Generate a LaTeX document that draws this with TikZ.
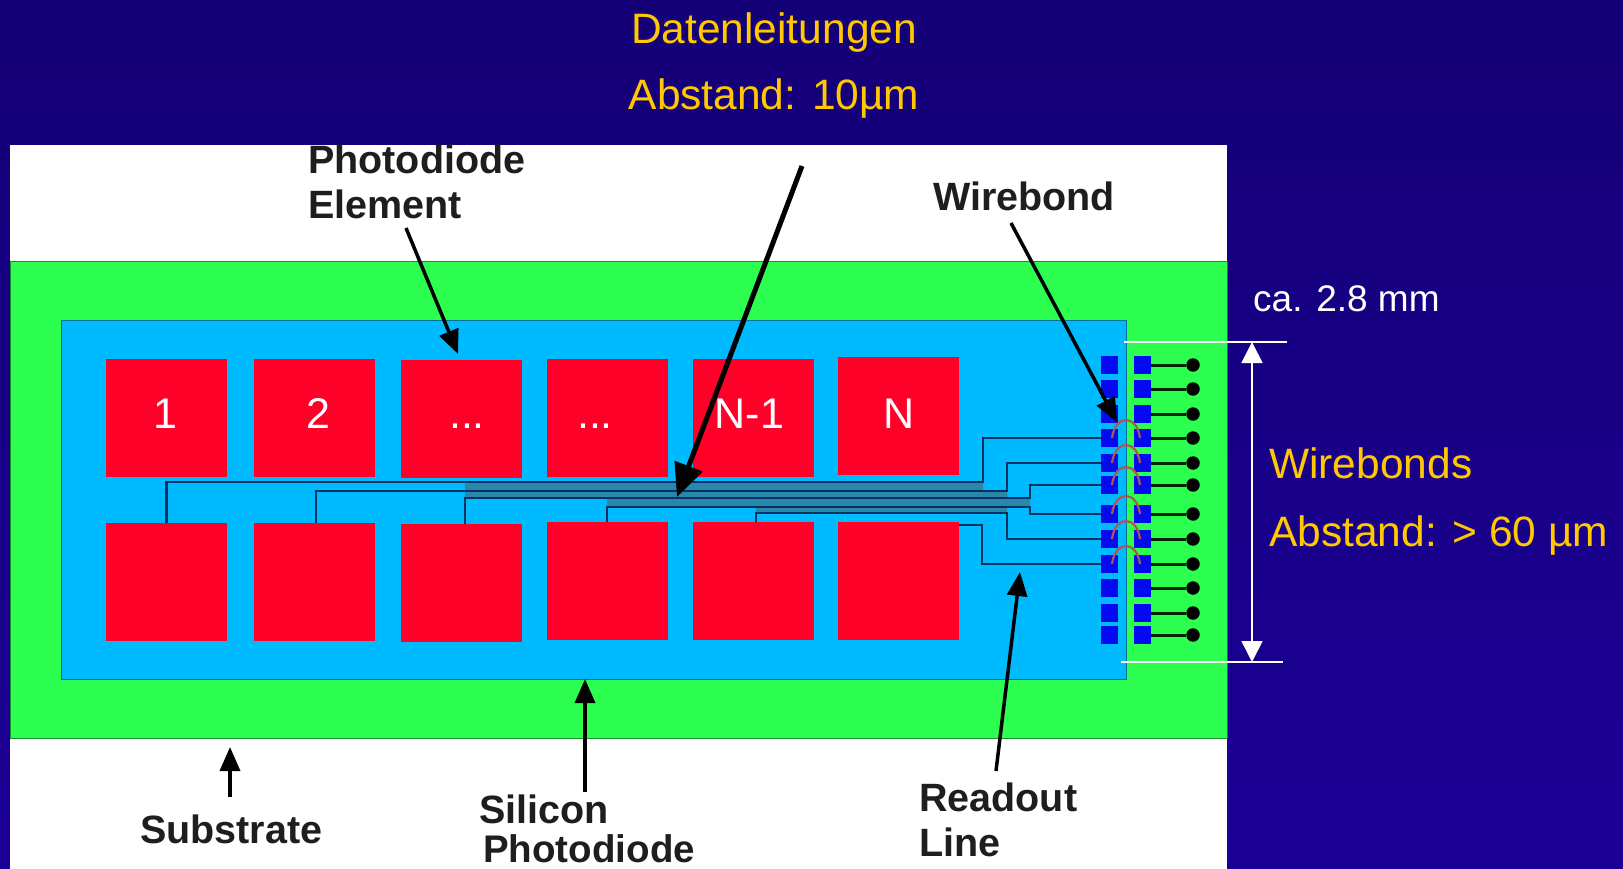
\documentclass[tikz,border=0pt]{standalone}
\usepackage{fontspec}
\setmainfont{Liberation Sans}
\usepackage{tikz}
\usetikzlibrary{arrows.meta,positioning,calc,fit}
\definecolor{slidetop}{RGB}{20,0,118}
\definecolor{slidebottom}{RGB}{28,0,150}
\definecolor{substrategreen}{RGB}{44,255,80}
\definecolor{diodeblue}{RGB}{0,186,255}
\definecolor{diodered}{RGB}{255,0,40}
\definecolor{padblue}{RGB}{4,10,240}
\definecolor{wirenavy}{RGB}{6,50,95}
\definecolor{wirehaze}{RGB}{40,135,170}
\definecolor{bondred}{RGB}{175,85,85}
\definecolor{slidegold}{RGB}{255,200,0}
\definecolor{labelblack}{RGB}{30,30,30}
\tikzset{
    diodeblock/.style={fill=diodered, minimum width=121pt, minimum height=118pt, inner sep=0pt},
    diodenumber/.style={anchor=base, inner sep=0pt, text=white, font=\fontsize{43}{50}\selectfont},
    padbox/.style={fill=padblue, minimum size=17.5pt, inner sep=0pt},
    ballnode/.style={circle, fill=black, minimum size=13.5pt, inner sep=0pt},
    wireline/.style={draw=wirenavy, line width=2.7pt},
    leadline/.style={draw=black!85!green, line width=3pt},
    bondarc/.style={draw=bondred, line width=2.2pt},
    diagramarrow/.style={-{Triangle[length=24pt, width=20pt]}, line width=3.5pt, draw=black, fill=black},
    bigarrow/.style={-{Triangle[length=33pt, width=29pt]}, line width=5pt, draw=black, fill=black},
    sizearrow/.style={{Triangle[length=21pt, width=21pt]}-{Triangle[length=21pt, width=21pt]}, line width=1.6pt, draw=white, fill=white},
    sizeline/.style={draw=white, line width=1.8pt},
    diagramlabel/.style={anchor=base west, inner sep=0pt, align=left, text=labelblack, font=\fontsize{39.5}{45}\selectfont\bfseries},
    goldnote/.style={inner sep=0pt, text=slidegold, font=\fontsize{42.5}{50}\selectfont},
    whitenote/.style={inner sep=0pt, text=white, font=\fontsize{37}{44}\selectfont}
}
\begin{document}
\begin{tikzpicture}[x=1pt, y=-1pt]
        \useasboundingbox (0,0) rectangle (1623,869);
        \shade[top color=slidetop, bottom color=slidebottom] (0,0) rectangle (1623,869);
        \fill[white] (10,145) rectangle (1227,869);
        \filldraw[fill=substrategreen, draw=black!45!substrategreen, line width=0.8pt] (10,261) rectangle (1227,738);
        \filldraw[fill=diodeblue, draw=black!40!diodeblue, line width=0.8pt] (61,320) rectangle (1126,679);
        \node[diodeblock] (top1) at (166.5,418) {};
        \node[diodeblock] (top2) at (314.5,418) {};
        \node[diodeblock] (top3) at (461,419) {};
        \node[diodeblock] (top4) at (607,418) {};
        \node[diodeblock] (top5) at (753,418) {};
        \node[diodeblock] (top6) at (898.5,416) {};
        \node[diodeblock] (low1) at (166.5,582) {};
        \node[diodeblock] (low2) at (314.5,582) {};
        \node[diodeblock] (low3) at (461,583) {};
        \node[diodeblock] (low4) at (607,581) {};
        \node[diodeblock] (low5) at (753,581) {};
        \node[diodeblock] (low6) at (898.5,581) {};
        \node[diodenumber] (num1) at (165,428) {1};
        \node[diodenumber] (num2) at (318,428) {2};
        \node[diodenumber] (num3) at (467,428) {...};
        \node[diodenumber] (num4) at (595,428) {...};
        \node[diodenumber] (num5) at (749.5,428) {N-1};
        \node[diodenumber] (num6) at (899.5,428) {N};
        \foreach \n/\y in {1/365,2/389,3/414,4/438,5/463,6/485,7/514,8/539,9/564,10/588,11/613,12/635} {
            \node[padbox] (padl\n) at (1109.5,\y) {};
            \node[padbox] (padr\n) at (1142.5,\y) {};
            \node[ballnode] (ball\n) at (1193,\y) {};
            \draw[leadline] (padr\n) -- (ball\n);
        }
        \fill[wirehaze] (465,482) -- (983,482) |- (1007,491) |- (1030,498) |- (1007,507) |- (756,513) |- (607,507) |- (465,498) -- cycle;
        \draw[wireline] (low1.north) |- (983,482) |- (padl4.west);
        \draw[wireline] ([xshift=1.5pt]low2.north) |- (1007,491) |- (padl5.west);
        \draw[wireline] ([xshift=4pt]low3.north) |- (1030,498) |- (padl6.west);
        \draw[wireline] (low4.north) |- (1030,507) |- (padl7.west);
        \draw[wireline] ([xshift=3pt]low5.north) |- (1007,513) |- (padl8.west);
        \draw[wireline] ([yshift=56pt]low6.east) -| (982,564) -- (padl9.west);
        \foreach \n in {4,...,9} {
            \draw[bondarc] ([xshift=2.5pt]padl\n.center) .. controls +(3,-24) and +(-3,-24) .. ([xshift=-2.5pt]padr\n.center);
        }
        \begin{scope}
            \clip (10,145) rectangle (1227,869);
            \node[diagramlabel] (element) at (308,219) {Photodiode\\Element};
            \node[diagramlabel] (wirebond) at (933,211) {Wirebond};
            \node[diagramlabel] (substrate) at (140,843) {Substrate};
            \node[diagramlabel] (silicon) at (479,862) {Silicon\\[-6pt]\hspace*{4pt}\fontsize{38.5}{45}\selectfont Photodiode};
            \node[diagramlabel] (readout) at (919,856) {Readout\\Line};
        \end{scope}
        \coordinate (elementtail) at (406,228);
        \coordinate (elementtip) at (458,354);
        \coordinate (wirebondtail) at (1011,223);
        \coordinate (wirebondtip) at (1117,422);
        \coordinate (substratetail) at (230,797);
        \coordinate (substratetip) at (230,747);
        \coordinate (silicontail) at (585,792);
        \coordinate (silicontip) at (585,679);
        \coordinate (readouttail) at (996,771);
        \coordinate (readouttip) at (1020,572);
        \coordinate (datatail) at (802,166);
        \coordinate (datatip) at (677,497);
        \draw[diagramarrow] (elementtail) -- (elementtip);
        \draw[diagramarrow] (wirebondtail) -- (wirebondtip);
        \draw[diagramarrow] (substratetail) -- (substratetip);
        \draw[diagramarrow] (silicontail) -- (silicontip);
        \draw[diagramarrow] (readouttail) -- (readouttip);
        \draw[bigarrow] (datatail) -- (datatip);
        \node[goldnote] (data) at (774,33) {Datenleitungen};
        \node[goldnote] (datagap) at (774,99) {Abstand: 10µm};
        \node[whitenote, anchor=base west] (size) at (1253,312) {ca. 2.8 mm};
        \node[goldnote, anchor=base west] (bonds) at (1269,478) {Wirebonds};
        \node[goldnote, anchor=base west] (bondgap) at (1269,546) {Abstand: > 60 µm};
        \coordinate (sizetopleft) at (1124,342);
        \coordinate (sizetopright) at (1287,342);
        \coordinate (sizelowleft) at (1121,662);
        \coordinate (sizelowright) at (1283,662);
        \coordinate (sizetop) at (1252,342);
        \coordinate (sizelow) at (1252,662);
        \draw[sizeline] (sizetopleft) -- (sizetopright);
        \draw[sizeline] (sizelowleft) -- (sizelowright);
        \draw[sizearrow] (sizetop) -- (sizelow);
    \end{tikzpicture}
\end{document}
